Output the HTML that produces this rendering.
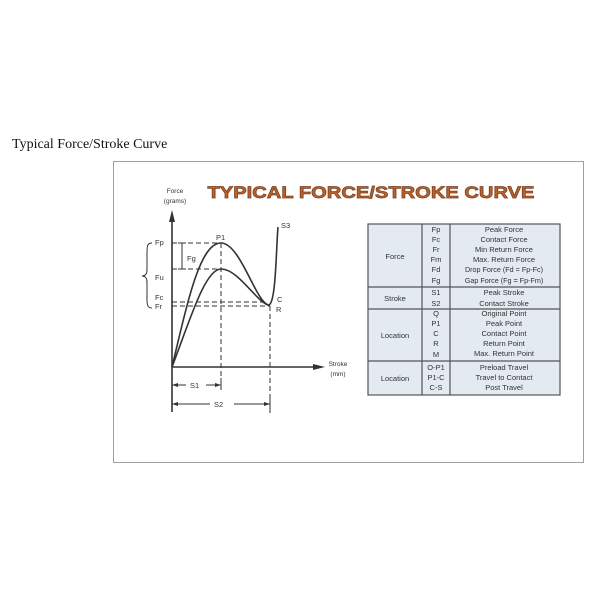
<!DOCTYPE html>
<html><head><style>
body{margin:0;background:#fff;width:600px;height:600px;position:relative;overflow:hidden}
.t{position:absolute;left:12px;top:137px;font-family:"Liberation Serif",serif;font-size:14px;color:#111}
.box{position:absolute;left:113px;top:161px;width:469px;height:300px;border:1px solid #9aa0a6;background:#fff}
</style></head><body>
<div class="t">Typical Force/Stroke Curve</div>
<div class="box"></div>
<svg width="600" height="600" style="position:absolute;left:0;top:0" font-family="Liberation Sans, sans-serif">
<text x="371" y="198" font-size="16.5" font-weight="bold" fill="#b9622c" text-anchor="middle" textLength="327" lengthAdjust="spacingAndGlyphs" stroke="#7a4020" stroke-width="0.7">TYPICAL FORCE/STROKE CURVE</text>
<g font-size="6.5" fill="#333" text-anchor="middle">
<text x="175" y="193">Force</text><text x="175" y="203">(grams)</text>
<text x="338" y="366">Stroke</text><text x="338" y="376">(mm)</text>
</g>
<g stroke="#333" stroke-width="1.6" fill="none">
<line x1="172" y1="214" x2="172" y2="412"/>
<line x1="172" y1="367" x2="318" y2="367"/>
<path d="M172,367 C188,300 200,243 221,243 C240,243 255,300 268,305 C276,307 276,250 278,227"/>
<path d="M172,367 C190,320 205,269 221,269 C238,269 255,300 268,305"/>
<line x1="172" y1="385" x2="221" y2="385" stroke-width="1"/>
<line x1="172" y1="404" x2="270" y2="404" stroke-width="1"/>
<line x1="221" y1="378" x2="221" y2="390" stroke-width="1"/>
<line x1="270" y1="395" x2="270" y2="413" stroke-width="1"/>
<line x1="182" y1="243" x2="182" y2="269" stroke-width="1"/>
<line x1="178" y1="243" x2="186" y2="243" stroke-width="1"/>
<line x1="178" y1="269" x2="186" y2="269" stroke-width="1"/>
<path d="M152,243 C147,243 147,246 147,255 L147,270 C147,274 145,276 142,276 C145,276 147,278 147,282 L147,300 C147,307 149,308 152,308" stroke-width="1"/>
</g>
<g fill="#333">
<polygon points="172,210 169,222 175,222"/>
<polygon points="325,367 313,364 313,370"/>
<polygon points="172,385 178,383 178,387"/><polygon points="221,385 215,383 215,387"/>
<polygon points="172,404 178,402 178,406"/><polygon points="270,404 264,402 264,406"/>
</g>
<g stroke="#333" stroke-width="1" stroke-dasharray="5,3" fill="none">
<line x1="172" y1="243" x2="221" y2="243"/>
<line x1="172" y1="269" x2="221" y2="269"/>
<line x1="172" y1="302" x2="268" y2="302"/>
<line x1="172" y1="306" x2="270" y2="306"/>
<line x1="221" y1="243" x2="221" y2="380"/>
<line x1="270" y1="306" x2="270" y2="398"/>
</g>
<rect x="186" y="380" width="20" height="10" fill="#fff"/>
<rect x="210" y="399" width="24" height="10" fill="#fff"/>
<g font-size="7.5" fill="#333">
<text x="155" y="245">Fp</text><text x="187" y="261">Fg</text><text x="155" y="280">Fu</text>
<text x="155" y="300">Fc</text><text x="155" y="309">Fr</text>
<text x="216" y="240">P1</text><text x="281" y="228">S3</text>
<text x="277" y="302">C</text><text x="276" y="312">R</text>
<text x="190" y="388">S1</text><text x="214" y="407">S2</text>
</g>
<rect x="368" y="224" width="192" height="171" fill="#e3eaf1" stroke="#555" stroke-width="1.2"/>
<g stroke="#555" stroke-width="1.2">
<line x1="422" y1="224" x2="422" y2="395"/><line x1="450" y1="224" x2="450" y2="395"/>
<line x1="368" y1="287" x2="560" y2="287"/><line x1="368" y1="309" x2="560" y2="309"/><line x1="368" y1="361" x2="560" y2="361"/>
</g>
<g font-size="7.5" fill="#333" text-anchor="middle">
<text x="395" y="259">Force</text><text x="395" y="301">Stroke</text><text x="395" y="338">Location</text><text x="395" y="381">Location</text>
<text x="436" y="232">Fp</text><text x="436" y="242">Fc</text><text x="436" y="252">Fr</text><text x="436" y="262">Fm</text><text x="436" y="272">Fd</text><text x="436" y="283">Fg</text>
<text x="436" y="295">S1</text><text x="436" y="306">S2</text>
<text x="436" y="316">Q</text><text x="436" y="326">P1</text><text x="436" y="336">C</text><text x="436" y="346">R</text><text x="436" y="357">M</text>
<text x="436" y="370">O-P1</text><text x="436" y="380">P1-C</text><text x="436" y="390">C-S</text>
<text x="504" y="232">Peak Force</text><text x="504" y="242">Contact Force</text><text x="504" y="252">Min Return Force</text><text x="504" y="262">Max. Return Force</text><text x="504" y="272" font-size="7.2">Drop Force (Fd = Fp-Fc)</text><text x="504" y="283" font-size="7.2">Gap Force (Fg = Fp-Fm)</text>
<text x="504" y="295">Peak Stroke</text><text x="504" y="306">Contact Stroke</text>
<text x="504" y="316">Original Point</text><text x="504" y="326">Peak Point</text><text x="504" y="336">Contact Point</text><text x="504" y="346">Return Point</text><text x="504" y="356">Max. Return Point</text>
<text x="504" y="370">Preload Travel</text><text x="504" y="380">Travel to Contact</text><text x="504" y="390">Post Travel</text>
</g>
</svg>
</body></html>
